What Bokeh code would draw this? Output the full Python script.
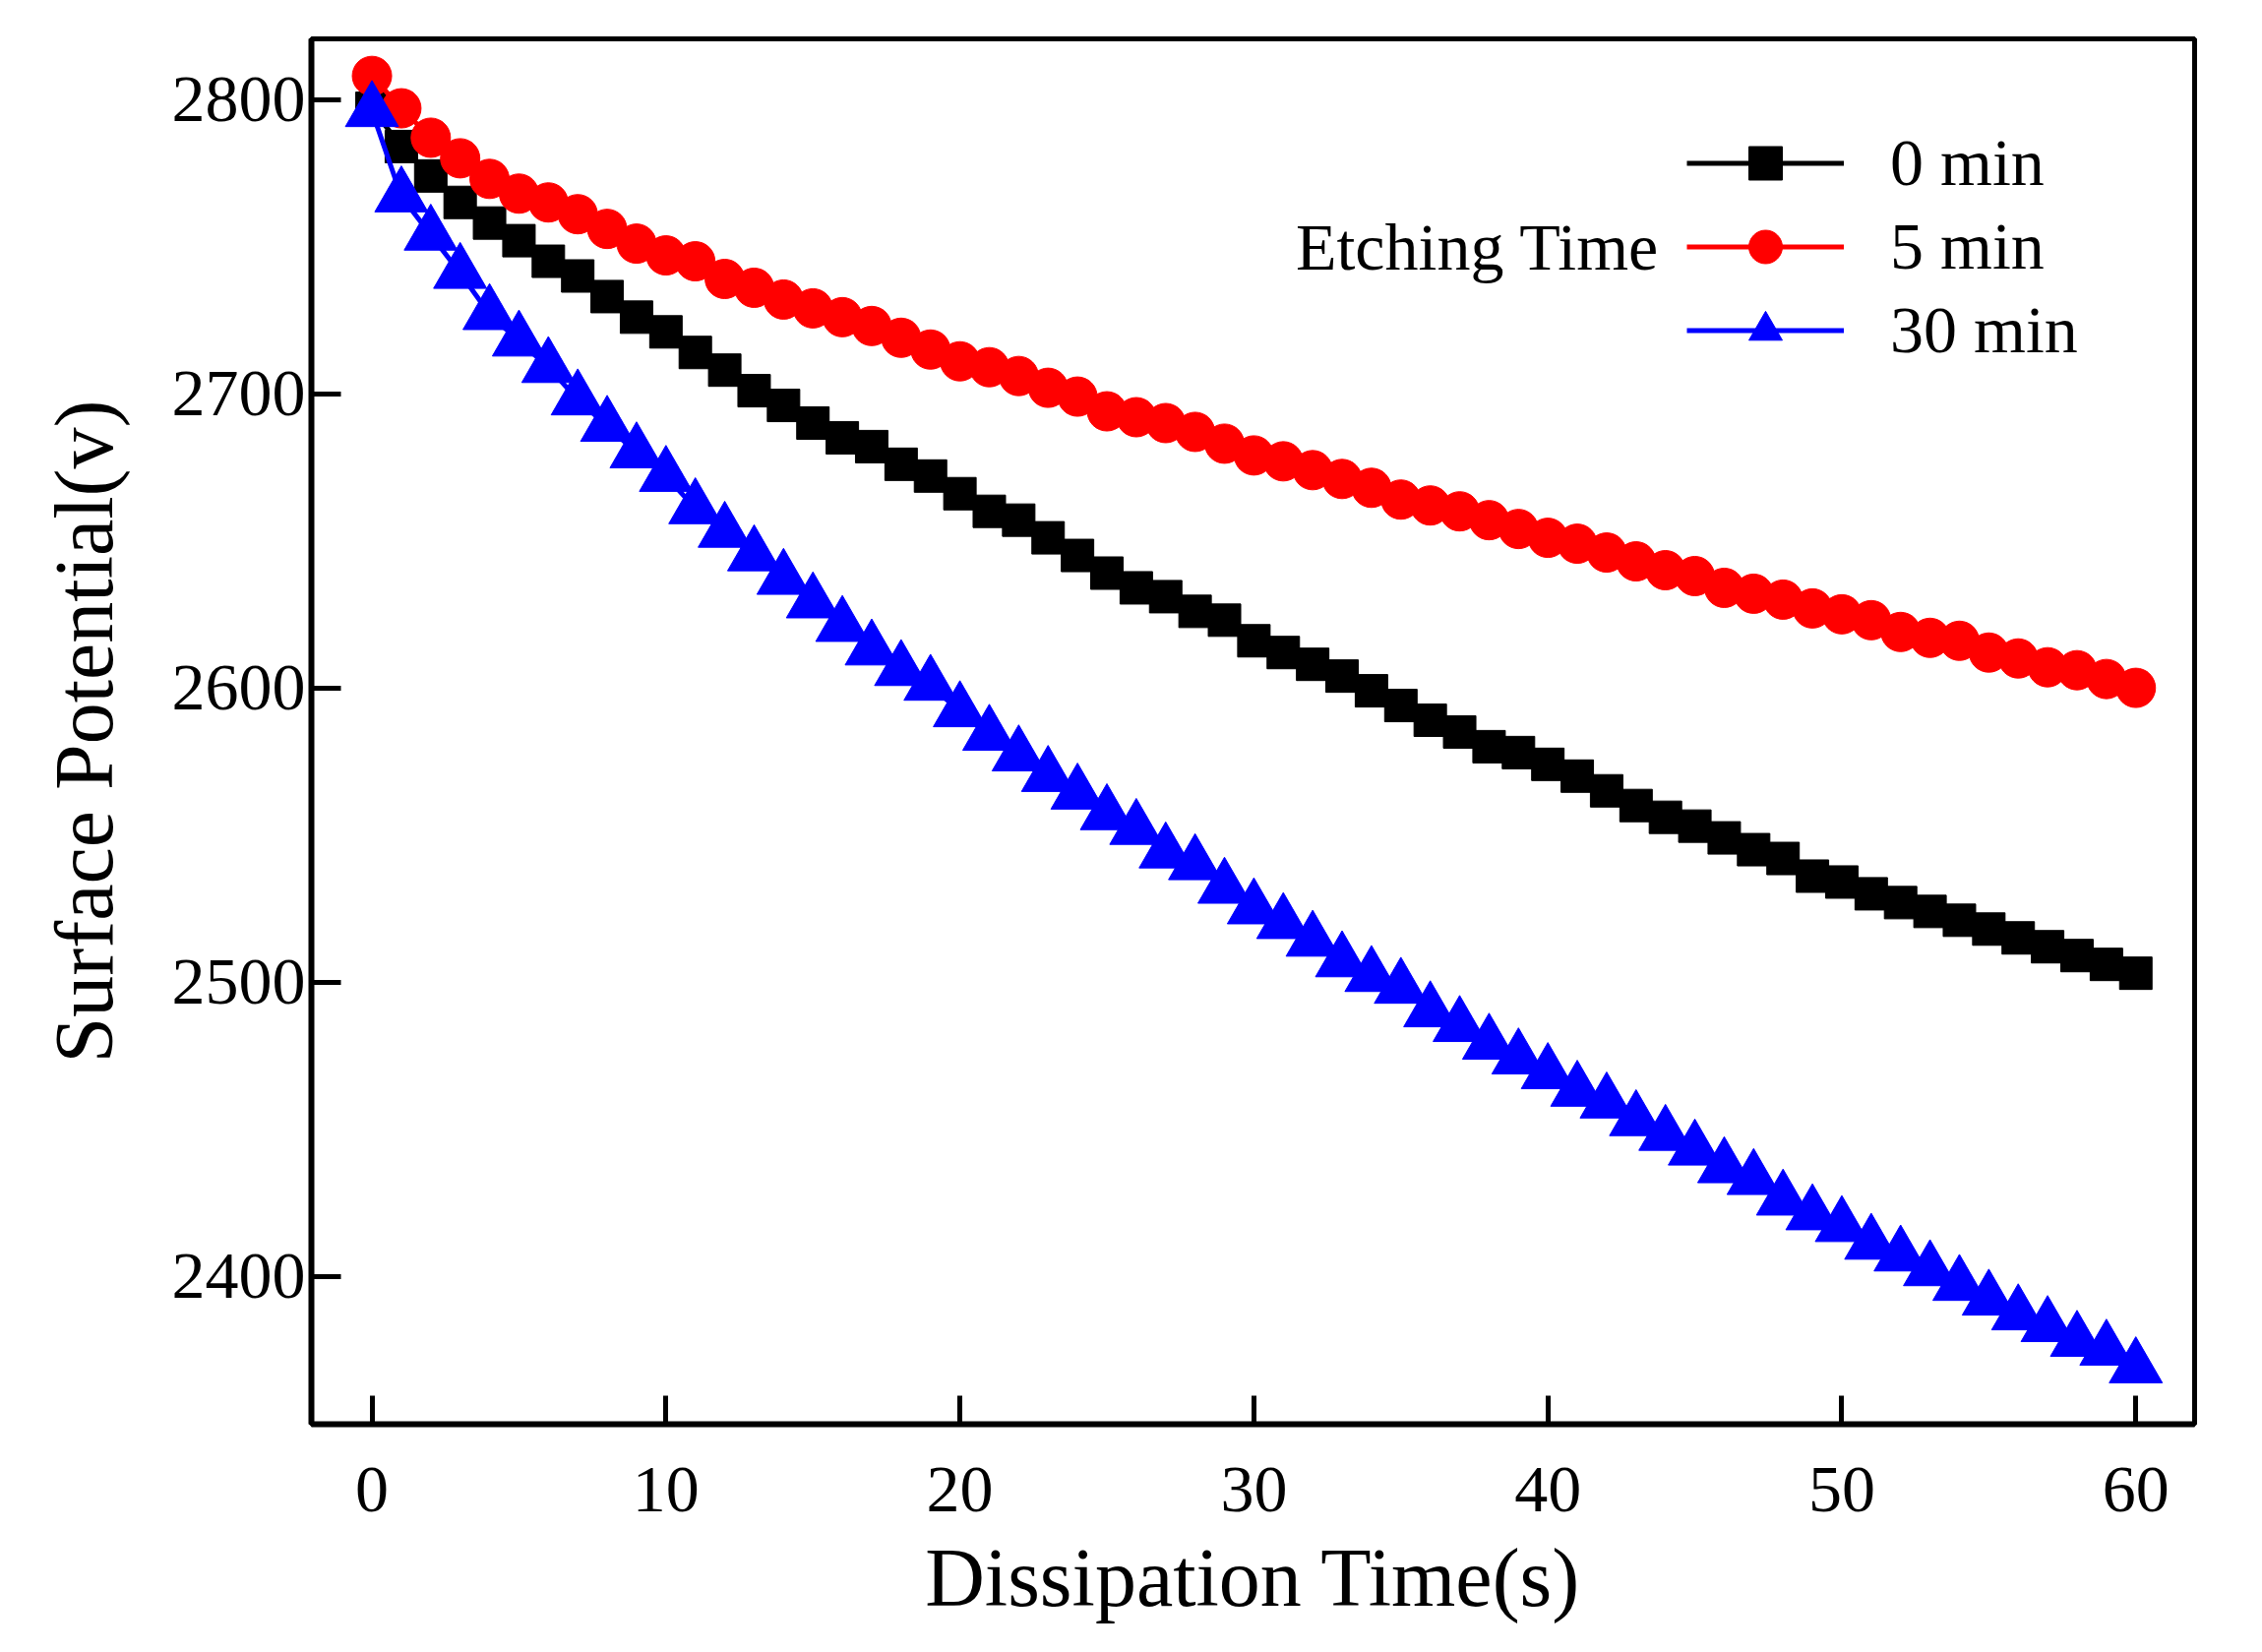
from bokeh.plotting import figure
from bokeh.models import Range1d, FixedTicker, Legend, LegendItem, Label
from bokeh.embed import file_html
from bokeh.resources import INLINE

# dissipation time (s)
t = list(range(0, 61))

# surface potential (V) for each etching time
v_0min = [2797, 2784, 2774, 2765, 2758, 2752, 2745, 2740, 2733, 2726,
          2721, 2714, 2708, 2701, 2696, 2690, 2685, 2682, 2676, 2672,
          2666, 2660, 2657, 2651, 2645, 2639, 2634, 2631, 2626, 2623,
          2616, 2612, 2608, 2604, 2599, 2594, 2589, 2585, 2580, 2578,
          2574, 2570, 2565, 2560, 2556, 2553, 2549, 2545, 2542, 2536,
          2534, 2530, 2527, 2524, 2521, 2518, 2515, 2512, 2509, 2506,
          2503]
v_5min = [2808, 2797, 2787, 2780, 2773, 2768, 2765, 2761, 2756, 2751,
          2747, 2745, 2739, 2736, 2732, 2729, 2726, 2723, 2719, 2715,
          2711, 2709, 2706, 2702, 2699, 2694, 2692, 2690, 2687, 2683,
          2679, 2677, 2674, 2671, 2668, 2664, 2662, 2660, 2657, 2654,
          2651, 2649, 2646, 2643, 2640, 2638, 2634, 2632, 2630, 2627,
          2625, 2623, 2619, 2617, 2616, 2612, 2610, 2607, 2606, 2603,
          2600]
v_30min = [2796, 2767, 2754, 2741, 2727, 2718, 2709, 2698, 2689, 2680,
           2672, 2661, 2653, 2645, 2637, 2629, 2621, 2613, 2606, 2601,
           2592, 2584, 2577, 2570, 2564, 2557, 2552, 2544, 2540, 2532,
           2525, 2520, 2514, 2507, 2502, 2498, 2490, 2485, 2479, 2474,
           2469, 2463, 2459, 2453, 2448, 2443, 2437, 2433, 2426, 2421,
           2417, 2411, 2407, 2402, 2397, 2392, 2387, 2383, 2378, 2375,
           2369]

labels = ["0 min", "5 min", "30 min"]
x_ticks = [0, 10, 20, 30, 40, 50, 60]
y_ticks = [2400, 2500, 2600, 2700, 2800]

FONT = "Liberation Serif"

p = figure(width=2283, height=1663, output_backend="svg", toolbar_location=None,
           x_range=Range1d(-2.06, 62.0), y_range=Range1d(2349.7, 2820.6),
           x_axis_label="Dissipation Time(s)", y_axis_label="Surface Potential(v)",
           min_border_left=316, min_border_right=53, min_border_top=39,
           min_border_bottom=216)

p.xgrid.visible = False
p.ygrid.visible = False
p.outline_line_color = "black"
p.outline_line_width = 5

# axes: inward ticks, serif labels
p.xaxis.ticker = FixedTicker(ticks=x_ticks)
p.yaxis.ticker = FixedTicker(ticks=y_ticks)
for ax in (p.xaxis, p.yaxis):
    ax.axis_line_width = 6
    ax.major_tick_line_width = 5
    ax.major_tick_out = 0
    ax.minor_tick_line_color = None
    ax.major_label_text_font = FONT
    ax.major_label_text_font_size = "68px"
    ax.major_label_text_color = "black"
    ax.axis_label_text_font = FONT
    ax.axis_label_text_font_size = "84px"
    ax.axis_label_text_font_style = "normal"
    ax.axis_label_text_color = "black"
p.xaxis.major_tick_in = 29
p.yaxis.major_tick_in = 30
p.xaxis.major_label_standoff = 44
p.yaxis.major_label_standoff = 6
p.xaxis.axis_label_standoff = 18
p.yaxis.axis_label_standoff = 40

# series
l0 = p.line(t, v_0min, color="black", line_width=5)
s0 = p.scatter(t, v_0min, marker="square", size=33, color="black")
l1 = p.line(t, v_5min, color="red", line_width=5)
s1 = p.scatter(t, v_5min, marker="circle", size=40, color="red")
l2 = p.line(t, v_30min, color="blue", line_width=5)
s2 = p.scatter(t, v_30min, marker="triangle", size=54, color="blue")

legend = Legend(items=[LegendItem(label=labels[0], renderers=[l0, s0]),
                       LegendItem(label=labels[1], renderers=[l1, s1]),
                       LegendItem(label=labels[2], renderers=[l2, s2])],
                location=(1398, 1069), padding=0, margin=0, spacing=0,
                glyph_width=160, glyph_height=85, label_standoff=47,
                label_text_font=FONT, label_text_font_size="68px",
                label_text_color="black",
                border_line_alpha=0, background_fill_alpha=0)
p.add_layout(legend)

p.add_layout(Label(x=1370, y=1197, x_units="screen", y_units="screen",
                   text="Etching Time", text_align="right", text_baseline="middle",
                   text_font=FONT, text_font_size="68px", text_color="black"))

open("out.html", "w").write(file_html(p, INLINE))
